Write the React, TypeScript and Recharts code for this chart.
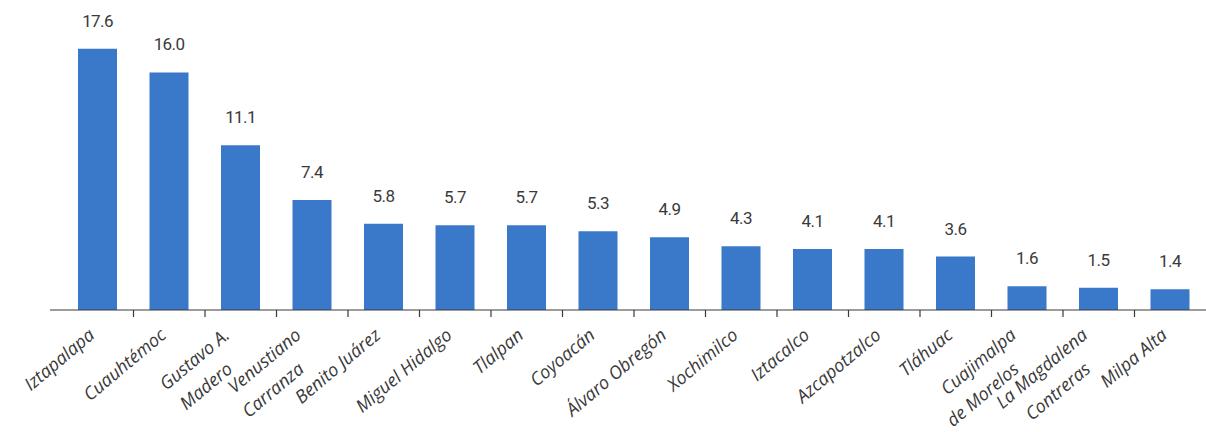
import { BarChart, Bar, XAxis, YAxis, LabelList } from "recharts";

// Alcaldías de la Ciudad de México, ordenadas de mayor a menor
const alcaldias = [
  "Iztapalapa",
  "Cuauhtémoc",
  "Gustavo A.\nMadero",
  "Venustiano\nCarranza",
  "Benito Juárez",
  "Miguel Hidalgo",
  "Tlalpan",
  "Coyoacán",
  "Álvaro Obregón",
  "Xochimilco",
  "Iztacalco",
  "Azcapotzalco",
  "Tláhuac",
  "Cuajimalpa\nde Morelos",
  "La Magdalena\nContreras",
  "Milpa Alta",
];

const valores = [17.6, 16.0, 11.1, 7.4, 5.8, 5.7, 5.7, 5.3, 4.9, 4.3, 4.1, 4.1, 3.6, 1.6, 1.5, 1.4];

const data = alcaldias.map((nombre, i) => ({ nombre, valor: valores[i] }));

const BLUE = "#3a78c9";
const INK = "#3a3a3a";

function CategoryTick(props: any) {
  const { x, y, payload, index } = props;
  const half = payload?.offset ?? 35.75;
  const lines = String(payload.value).split("\n");
  const last = index === alcaldias.length - 1;
  // two-line labels sit a little further left, as in the original
  const dx = lines.length > 1 ? -10 : -2;
  return (
    <g>
      {!last && (
        <line x1={x + half} x2={x + half} y1={y} y2={y + 7} stroke={INK} strokeWidth={1.2} />
      )}
      {lines.map((line, i) => (
        <text
          key={i}
          transform={`translate(${x + dx + i * 3}, ${y + 27 + i * 34}) rotate(-40)`}
          textAnchor="end"
          fontSize={18}
          fontStyle="italic"
          fontFamily="'Open Sans', sans-serif"
          fill={INK}
        >
          {line}
        </text>
      ))}
    </g>
  );
}

export default function App() {
  return (
    <div style={{ position: "absolute", left: 0, top: 0, background: "#fff" }}>
      <BarChart
        width={1206}
        height={432}
        data={data}
        margin={{ top: 13, right: 0, bottom: 0, left: 50 }}
        barCategoryGap={0}
      >
        <XAxis
          dataKey="nombre"
          height={122}
          interval={0}
          padding={{ left: 12, right: 0 }}
          tickSize={0}
          tickMargin={0}
          tickLine={false}
          axisLine={{ stroke: INK, strokeWidth: 1.2 }}
          tick={<CategoryTick />}
        />
        <YAxis hide domain={[0, 20]} />
        <Bar dataKey="valor" fill={BLUE} barSize={39} isAnimationActive={false}>
          <LabelList
            dataKey="valor"
            position="top"
            offset={22}
            formatter={(v: any) => Number(v).toFixed(1)}
            style={{
              fontSize: 17,
              fill: INK,
              letterSpacing: -0.6,
              fontFamily: "Roboto, sans-serif",
            }}
          />
        </Bar>
      </BarChart>
    </div>
  );
}
